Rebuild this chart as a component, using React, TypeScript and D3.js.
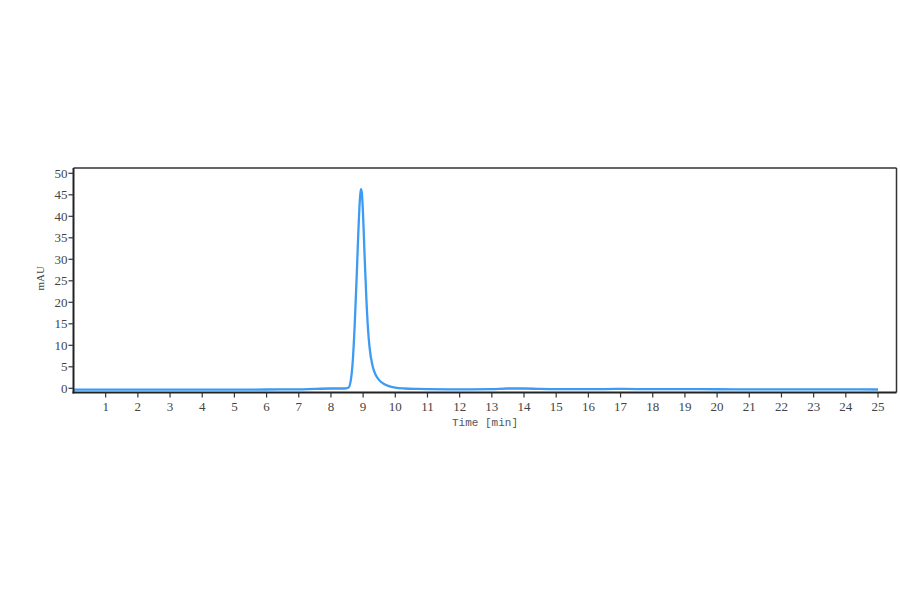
import React from 'react';
import * as d3 from 'd3';

// chromatogram samples (time in min, absorbance in mAU)
const times = [
  0, 1, 2, 3, 4, 5, 6, 7, 7.5, 8, 8.4, 8.55, 8.62, 8.68, 8.74, 8.8, 8.85, 8.9, 8.93,
  8.96, 9.0, 9.05, 9.1, 9.15, 9.2, 9.3, 9.4, 9.5, 9.65, 9.8, 10, 10.3, 10.7, 11, 12,
  13, 13.5, 14, 14.5, 15, 16, 17, 18, 19, 20, 21, 22, 23, 24, 25,
];
const values = [
  -0.3, -0.3, -0.3, -0.3, -0.3, -0.3, -0.28, -0.25, -0.12, -0.05, -0.05, 0.2, 2.0, 6.5,
  15, 26, 36, 44, 46.3, 45.5, 40, 30, 21, 14, 9.5, 5, 3, 1.9, 1.0, 0.5, 0.15, -0.05,
  -0.15, -0.2, -0.25, -0.2, -0.05, -0.05, -0.15, -0.2, -0.2, -0.15, -0.2, -0.2, -0.22,
  -0.25, -0.25, -0.25, -0.25, -0.28,
];
const xTicks = d3.range(1, 26);
const yTicks = d3.range(0, 51, 5);

const W = 900;
const H = 594;
const left = 73.5;
const right = 896.5;
const top = 168;
const bottom = 392.5;

export default function App() {
  const x = d3.scaleLinear().domain([0, 25]).range([left, left + 25 * 32.18]);
  const y = d3.scaleLinear().domain([0, 50]).range([388.3, 173.3]);

  const pts = times.map((t, i) => [t, values[i]] as [number, number]);
  const line = d3
    .line<[number, number]>()
    .x((d) => x(d[0]))
    .y((d) => y(d[1]))
    .curve(d3.curveMonotoneX);

  const tickFont = '"Liberation Serif", "DejaVu Serif", serif';

  return (
    <svg
      width={W}
      height={H}
      style={{ position: 'absolute', left: 0, top: 0, background: '#fff' }}
    >
      <rect x={left} y={top} width={right - left} height={bottom - top} fill="#fff" />
      <path d={line(pts) || ''} fill="none" stroke="#3d9bf3" strokeWidth={2.3} />

      {/* frame */}
      <line x1={left} x2={right} y1={top} y2={top} stroke="#333" strokeWidth={1.5} />
      <line x1={right} x2={right} y1={top} y2={bottom} stroke="#333" strokeWidth={1.5} />
      <line x1={left} x2={left} y1={top} y2={bottom + 1} stroke="#222" strokeWidth={2} />
      <line x1={left - 1} x2={right} y1={bottom} y2={bottom} stroke="#222" strokeWidth={2} />

      {/* y axis */}
      {yTicks.map((v) => (
        <g key={v} transform={`translate(0,${y(v)})`}>
          <line x1={left - 5} x2={left} stroke="#333" strokeWidth={1.2} />
          <text
            x={left - 6}
            dy="0.35em"
            textAnchor="end"
            fontFamily={tickFont}
            fontSize={13}
            fill="#444"
          >
            {v}
          </text>
        </g>
      ))}

      {/* x axis */}
      {xTicks.map((v) => (
        <g key={v} transform={`translate(${x(v)},0)`}>
          <line y1={bottom} y2={bottom + 5} stroke="#333" strokeWidth={1.2} />
          <text
            y={bottom + 18}
            textAnchor="middle"
            fontFamily={tickFont}
            fontSize={13}
            fill="#444"
          >
            {v}
          </text>
        </g>
      ))}

      <text
        x={485}
        y={426}
        textAnchor="middle"
        fontFamily='"Liberation Mono", "DejaVu Sans Mono", monospace'
        fontSize={11}
        fill="#555"
      >
        Time [min]
      </text>
      <text
        transform={`translate(44,${(top + bottom) / 2 - 2}) rotate(-90)`}
        textAnchor="middle"
        fontFamily='"Liberation Serif", serif'
        fontSize={11}
        fill="#444"
      >
        mAU
      </text>
    </svg>
  );
}
